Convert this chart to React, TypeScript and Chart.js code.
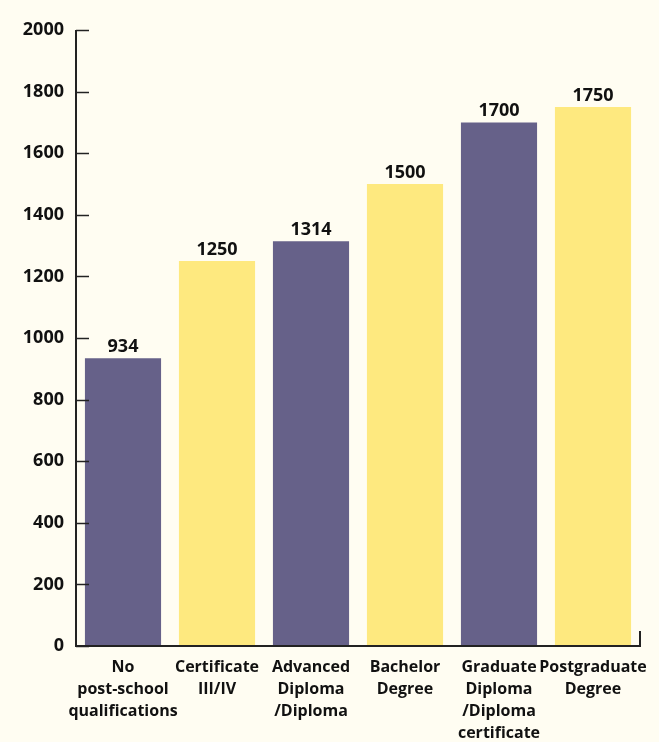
import React, { useEffect, useRef } from "react";
import { Chart, registerables } from "chart.js";

Chart.register(...registerables);

const categories: string[][] = [
  ["No", "post-school", "qualifications"],
  ["Certificate", "III/IV"],
  ["Advanced", "Diploma", "/Diploma"],
  ["Bachelor", "Degree"],
  ["Graduate", "Diploma", "/Diploma", "certificate"],
  ["Postgraduate", "Degree"],
];
const values: number[] = [934, 1250, 1314, 1500, 1700, 1750];
const yTicks: number[] = [0, 200, 400, 600, 800, 1000, 1200, 1400, 1600, 1800, 2000];

const PURPLE = "#666189";
const YELLOW = "#FEE97F";
const BG = "#FFFDF2";
const FONT = "'Open Sans'";

const decorPlugin = {
  id: "decor",
  beforeDraw(chart: any) {
    const { ctx } = chart;
    ctx.save();
    ctx.fillStyle = BG;
    ctx.fillRect(0, 0, chart.width, chart.height);
    ctx.restore();
  },
  afterDatasetsDraw(chart: any) {
    const { ctx, chartArea } = chart;
    const ys = chart.scales.y;
    ctx.save();
    ctx.strokeStyle = "#222";
    ctx.lineWidth = 1.5;
    yTicks.forEach((v) => {
      const py = Math.round(ys.getPixelForValue(v)) + 0.5;
      ctx.beginPath();
      ctx.moveTo(chartArea.left, py);
      ctx.lineTo(chartArea.left + 13, py);
      ctx.stroke();
    });
    ctx.lineWidth = 2;
    ctx.beginPath();
    ctx.moveTo(chartArea.left, ys.getPixelForValue(2000));
    ctx.lineTo(chartArea.left, chartArea.bottom);
    ctx.lineTo(chartArea.right, chartArea.bottom);
    ctx.lineTo(chartArea.right, chartArea.bottom - 15);
    ctx.stroke();
    const meta = chart.getDatasetMeta(0);
    ctx.fillStyle = "#111";
    ctx.font = `bold 18px ${FONT}`;
    ctx.textAlign = "center";
    ctx.textBaseline = "alphabetic";
    meta.data.forEach((bar: any, i: number) => {
      ctx.fillText(String(values[i]), bar.x, bar.y - 6);
    });
    ctx.restore();
  },
};

export default function App() {
  const ref = useRef<HTMLCanvasElement>(null);
  useEffect(() => {
    document.body.style.margin = "0";
    document.body.style.background = BG;
    const chart = new Chart(ref.current!, {
      type: "bar",
      data: {
        labels: categories,
        datasets: [
          {
            data: values,
            backgroundColor: values.map((_, i) => (i % 2 === 0 ? PURPLE : YELLOW)),
            categoryPercentage: 0.81,
            barPercentage: 1,
          },
        ],
      },
      options: {
        responsive: false,
        animation: false,
        layout: { padding: { top: 30, right: 19, left: 0, bottom: 0 } },
        plugins: { legend: { display: false }, tooltip: { enabled: false } },
        scales: {
          x: {
            grid: { display: false, drawTicks: false },
            border: { display: false },
            ticks: {
              color: "#111",
              font: { family: FONT, size: 16, weight: "bold", lineHeight: 1.38 },
              padding: 10,
              maxRotation: 0,
              autoSkip: false,
            },
            afterFit(scale: any) {
              scale.height = 96;
            },
          },
          y: {
            min: 0,
            max: 2000,
            grid: { display: false, drawTicks: false },
            border: { display: false },
            afterBuildTicks(scale: any) {
              scale.ticks = yTicks.map((v) => ({ value: v }));
            },
            ticks: {
              color: "#111",
              font: { family: FONT, size: 18, weight: "bold" },
              padding: 12,
              callback: (v: any) => String(v),
            },
            afterFit(scale: any) {
              scale.width = 76;
            },
          },
        },
      },
      plugins: [decorPlugin],
    });
    return () => chart.destroy();
  }, []);
  return (
    <div style={{ width: 659, height: 742 }}>
      <canvas ref={ref} width={659} height={742} style={{ display: "block" }} />
    </div>
  );
}
